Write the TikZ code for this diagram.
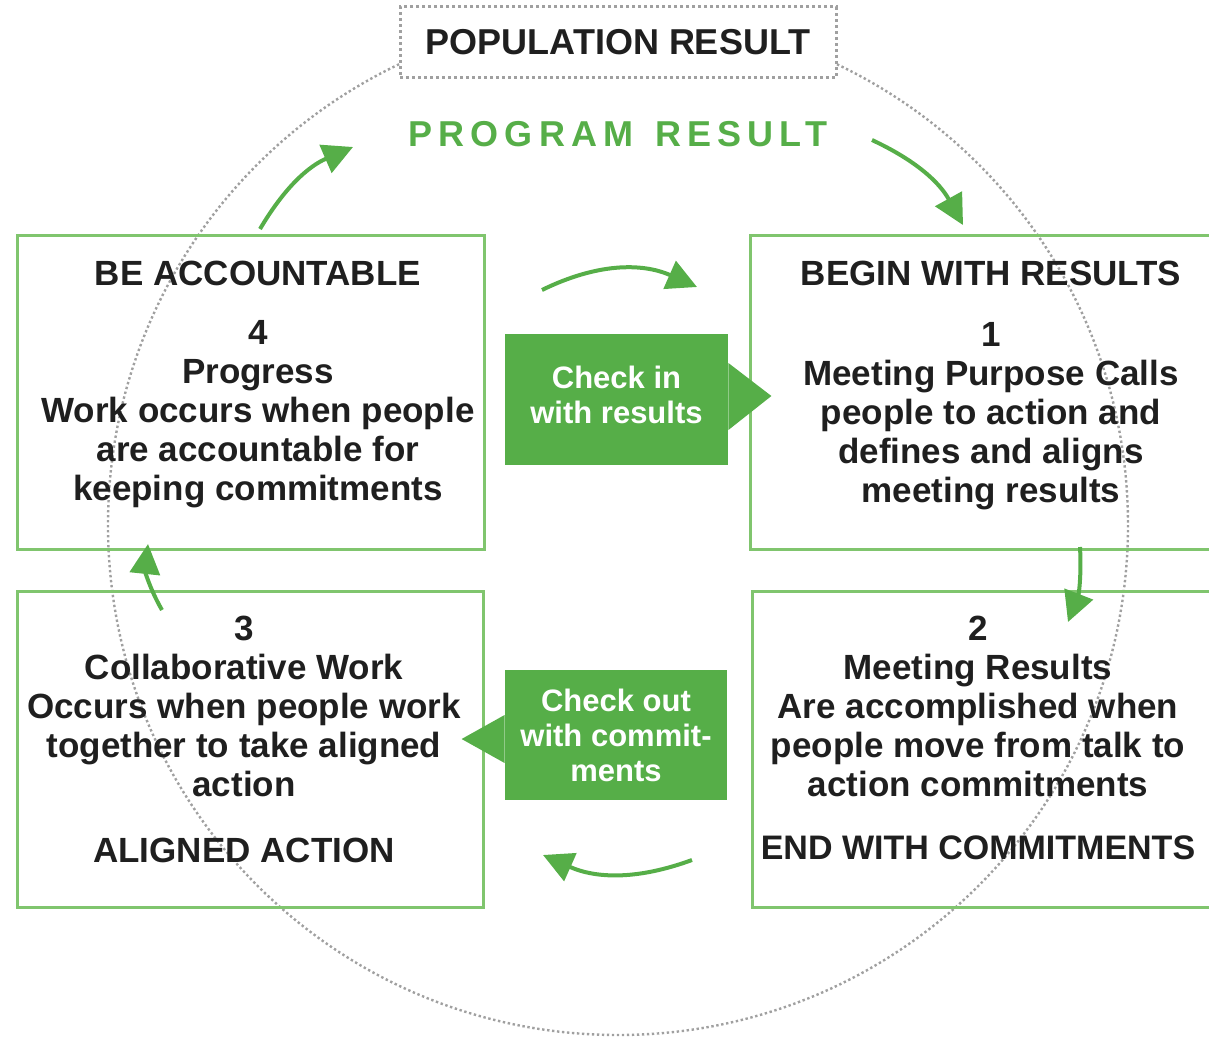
\documentclass[tikz,border=0pt]{standalone}
\usepackage{fontspec}
\setmainfont{Liberation Sans}
\usetikzlibrary{arrows.meta,positioning}

\definecolor{boxgreen}{RGB}{128,197,110}
\definecolor{leafgreen}{RGB}{86,174,72}
\definecolor{ringgray}{RGB}{160,160,160}

\begin{document}
\begin{tikzpicture}[x=0.5pt,y=-0.5pt,
    box/.style={draw=boxgreen, line width=1.5pt, minimum height=157pt, inner sep=0},
    txt/.style={align=center, inner sep=0, text=black!88,
      font=\fontsize{17.5}{19.5}\selectfont\bfseries},
    tag/.style={fill=leafgreen, text=white, align=center, inner sep=0,
      minimum width=111.5pt, minimum height=65.5pt,
      font=\fontsize{15.5}{17.5}\selectfont\bfseries},
    flow/.style={draw=leafgreen, line width=2pt,
      -{Triangle[length=15pt,width=15pt]}}]

        \useasboundingbox (0,0) rectangle (1209,1038);

        % dotted ring behind everything
        \draw[ringgray, line width=1.2pt, dash pattern=on 1.2pt off 1.3pt]
          (618,525) circle[radius=510];

        \node[draw=ringgray, fill=white, line width=1.5pt,
              dash pattern=on 1.5pt off 1.5pt,
              minimum width=218pt, minimum height=35.5pt,
              font=\fontsize{18}{20}\selectfont\bfseries, text=black!88]
              (pop) at (618,42.5) {POPULATION RESULT};
        \node[leafgreen, font=\fontsize{18}{20}\selectfont\bfseries\addfontfeature{LetterSpace=17}]
              (prog) at (618,134) {PROGRAM\hspace{3pt} RESULT};

        % the four boxes
        \node[box, minimum width=233.5pt] (4) at (250.5,392) {};
        \node[box, minimum width=235pt]   (1) at (985,392)   {};
        \node[box, minimum width=233pt, minimum height=158pt] (3) at (250,749) {};
        \node[box, minimum width=234pt, minimum height=158pt] (2) at (986,749) {};

        \node[txt, anchor=north] (t4) at (258,261)
          {BE ACCOUNTABLE\\[10pt] 4\\ Progress\\ Work occurs when people\\
           are accountable for\\ keeping commitments};
        \node[txt, anchor=north] (t1) at (991,261)
          {BEGIN WITH RESULTS\\[11pt] 1\\ Meeting Purpose Calls\\
           people to action and\\ defines and aligns\\ meeting results};
        \node[txt, anchor=north] (t3) at (244,616)
          {3\\ Collaborative Work\\ Occurs when people work\\
           together to take aligned\\ action\\[13.5pt] ALIGNED ACTION};
        \node[txt, anchor=north] (t2) at (978,616)
          {2\\ Meeting Results\\ Are accomplished when\\
           people move from talk to\\ action commitments\\[12pt]
           {\fontsize{17}{19.5}\selectfont END WITH COMMITMENTS}};

        % check in / check out tags
        \node[tag, text depth=5pt] (in) at (616.5,399.5) {Check in\\with results};
        \fill[leafgreen] (in.east) ++(0,-36.5) -- ++(43,33) -- ++(-43,34) -- cycle;
        \node[tag, minimum width=111pt, minimum height=65pt] (out) at (616,735)
          {Check out\\with commit-\\ments};
        \fill[leafgreen] (out.west) ++(0,-20) -- ++(-43,24) -- ++(43,24) -- cycle;

        % cycle arrows
        \coordinate (a1) at (260,229);
        \coordinate (b1) at (353,147);
        \coordinate (a2) at (872,140);
        \coordinate (b2) at (963,225);
        \coordinate (a3) at (542,290);
        \coordinate (b3) at (697,287);
        \coordinate (a4) at (1080,547);
        \coordinate (b4) at (1068,622);
        \coordinate (a5) at (692,860);
        \coordinate (b5) at (543,855);
        \coordinate (a6) at (162,610);
        \coordinate (b6) at (148,544);

        \draw[flow] (a1) to[bend left=18] (b1);
        \draw[flow] (a2) to[bend left=18] (b2);
        \draw[flow] (a3) to[bend left=25] (b3);
        \draw[flow] (a4) to[bend left=12] (b4);
        \draw[flow] (a5) to[bend left=22] (b5);
        \draw[flow] (a6) to[bend left=18] (b6);

      \end{tikzpicture}
\end{document}
